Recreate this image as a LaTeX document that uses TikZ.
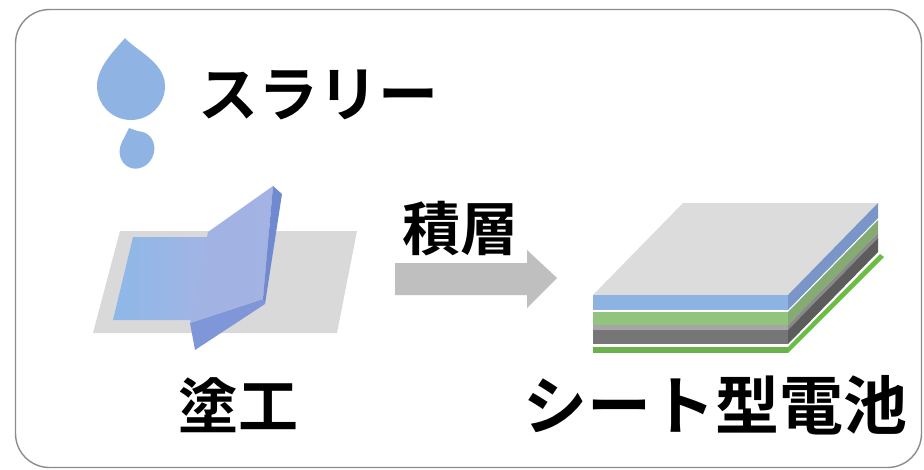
\documentclass[tikz,border=0pt]{standalone}
\usepackage{fontspec}
\newfontfamily\jp{Noto Sans CJK JP}[BoldFont={Noto Sans CJK JP Bold}]
\definecolor{frame}{HTML}{8C8C8C}
\definecolor{drop}{HTML}{8FB4E3}
\definecolor{sheet}{HTML}{D9D9D9}
\definecolor{coatL}{HTML}{8DB8E8}
\definecolor{coatR}{HTML}{A4B4E4}
\definecolor{blade}{HTML}{A3B3E3}
\definecolor{bladeS}{HTML}{7189CE}
\definecolor{bladeB}{HTML}{7F97D8}
\definecolor{arrowgray}{HTML}{BFBFBF}
\definecolor{topface}{HTML}{DCDCDC}
\definecolor{lblue}{HTML}{8DB3E2}
\definecolor{lblueS}{HTML}{7A96C9}
\definecolor{lgreen}{HTML}{93C47D}
\definecolor{lgreenS}{HTML}{84AC72}
\definecolor{lgray}{HTML}{A6A6A6}
\definecolor{lgrayS}{HTML}{8A8A8A}
\definecolor{ldark}{HTML}{767676}
\definecolor{ldarkS}{HTML}{5C5C5C}
\definecolor{lbot}{HTML}{6CB24A}
\definecolor{lbotS}{HTML}{6BBD45}
\tikzset{
  label/.style={font=\jp\bfseries\fontsize{#1}{#1}\selectfont, inner sep=0pt, text=black},
  label/.default=58
}
% one layer of the stacked cell: front strip plus its receding side
\newcommand{\celllayer}[4]{%
  \fill[#3] (593,#1) rectangle (788,#2);
  \fill[#4] (788,#1) -- (878,#1-92) -- (878,#2-92) -- (788,#2) -- cycle;
}
\begin{document}
\begin{tikzpicture}[x=1pt,y=-1pt]
\useasboundingbox (0,0) rectangle (924,469);
\fill[white] (0,0) rectangle (924,469);

% outer frame
\draw[frame, line width=1.4pt, rounded corners=34pt] (15.5,9.5) rectangle (921.5,467.5);

% slurry droplets
\fill[drop] (125,38) .. controls (135,50) and (165,62) .. (165,86)
  arc[start angle=0, end angle=180, radius=34]
  .. controls (97,66) and (117,48) .. (125,38) -- cycle;
\fill[drop, rotate around={-25:(137,150)}] (137,150) ellipse[x radius=17, y radius=19];
\fill[drop] (129,128) -- (122,142) -- (146,134) -- cycle;

\node[label=60] (slurry) at (318,95) {スラリー};

% coating: substrate sheet, coated film and blade
\fill[sheet] (120,231) -- (357,231) -- (337,333) -- (93,333) -- cycle;
\shade[left color=coatL, right color=coatR] (133,237) -- (218,237) -- (198,320) -- (113,320) -- cycle;
\fill[bladeB] (190,323) -- (263,299) -- (265,304) -- (195,350) -- cycle;
\shade[left color=blade!90!coatL, right color=blade] (208,232) -- (273,186) -- (263,299) -- (190,323) -- cycle;
\fill[bladeS] (273,186) -- (282,194) -- (265,304) -- (263,299) -- cycle;

\node[label=60] (coat) at (238,405) {塗工};

% stacking arrow
\node[label] (stack) at (460,229) {積層};
\coordinate (arrS) at (395,278);
\coordinate (arrE) at (557,278);
\fill[arrowgray] (arrS) ++(0,-15) -- ++(132,0) -- ++(0,-13) -- (arrE)
  -- ++(-30,30) -- ++(0,-13) -- ++(-132,0) -- cycle;

% stacked sheet cell
\fill[topface] (593,295) -- (788,295) -- (878,203) -- (683,203) -- cycle;
\celllayer{295}{310}{lblue}{lblueS}
\celllayer{312}{325}{lgreen}{lgreenS}
\celllayer{325}{330}{lgray}{lgrayS}
\celllayer{330}{344}{ldark}{ldarkS}
\fill[lbot] (593,347) rectangle (788,353);
\fill[lbotS] (788,347) -- (880,254) -- (884,257) -- (788,353) -- cycle;

\node[label=64] (cell) at (715,405) {シート型電池};
\end{tikzpicture}
\end{document}
